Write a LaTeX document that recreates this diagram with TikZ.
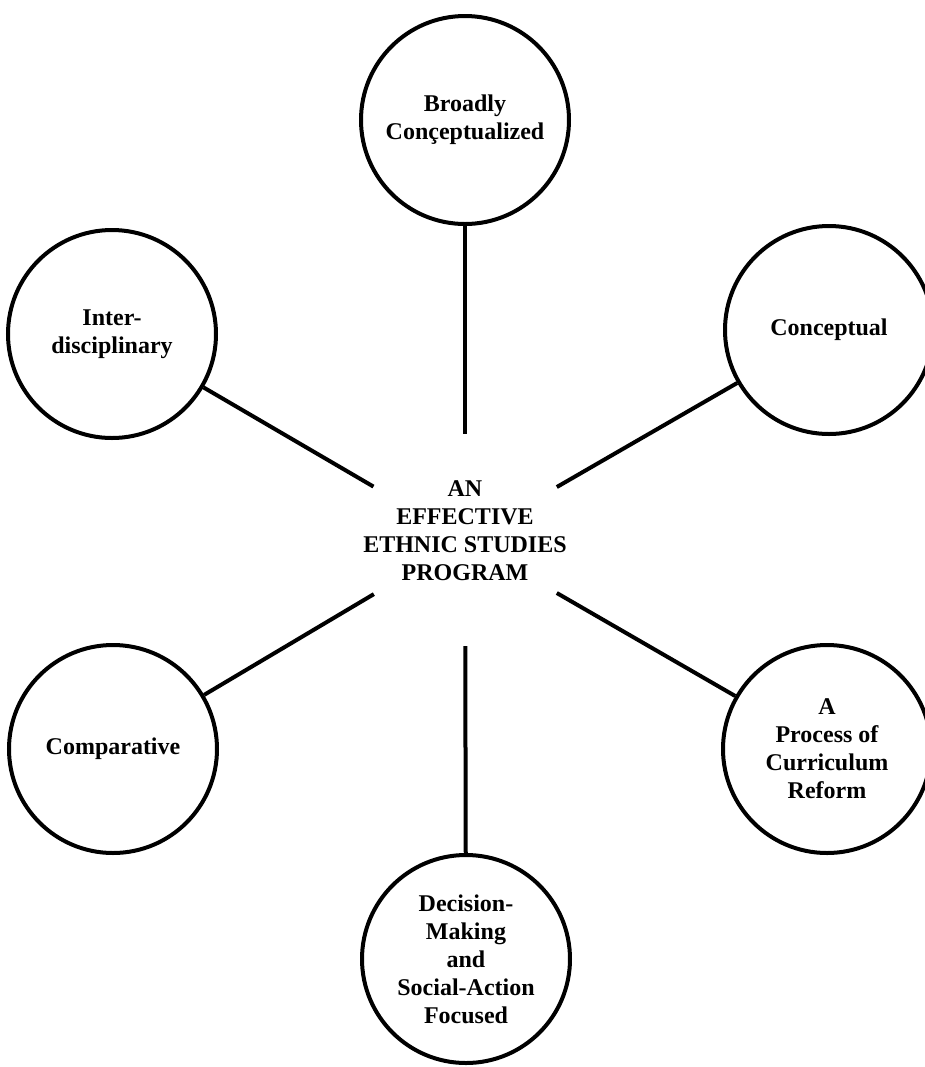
\documentclass[tikz,border=0pt]{standalone}
\usepackage{fontspec}
\setmainfont{Liberation Serif}
\usetikzlibrary{positioning}

\begin{document}
\begin{tikzpicture}[
    x=0.5pt, y=-0.5pt,
    facetcircle/.style={draw=black, circle, line width=2pt, minimum size=104pt, inner sep=0pt, align=center, font=\bfseries\fontsize{12}{14}\selectfont},
    hubtext/.style={align=center, font=\bfseries\fontsize{12}{14}\selectfont},
    spoke/.style={draw=black, line width=2pt, shorten >=53pt}
]
\useasboundingbox (0,0) rectangle (925,1067);

% Centre of the program
\coordinate (hub) at (465,540);
\node (prog) [hubtext] at (465,531) {AN\\EFFECTIVE\\ETHNIC STUDIES\\PROGRAM};

% Outer circles
\node (broad) [facetcircle] at (465,120) {Broadly\\Conçeptualized};
\node (inter) [facetcircle] at (112,334) {Inter-\\disciplinary};
\node (concept) [facetcircle] at (829,330) {Conceptual};
\node (compar) [facetcircle] at (113,749) {Comparative};
\node (reform) [facetcircle] at (827,749) {A\\Process of\\Curriculum\\Reform};
\node (decide) [facetcircle] at (466,959) {Decision-\\Making\\and\\Social-Action\\Focused};

% Spokes
\draw [spoke] (broad) -- (hub);
\draw [spoke] (inter) -- (hub);
\draw [spoke] (concept) -- (hub);
\draw [spoke] (compar) -- (hub);
\draw [spoke] (reform) -- (hub);
\draw [spoke] (decide) -- (hub);

\end{tikzpicture}
\end{document}
